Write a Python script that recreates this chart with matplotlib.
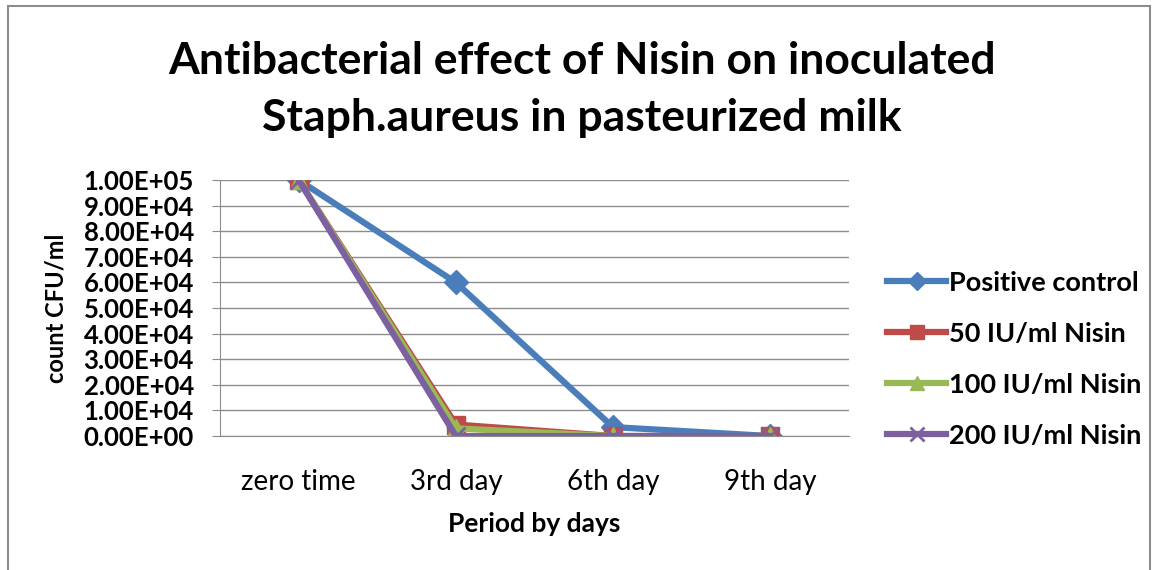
import matplotlib.pyplot as plt
from matplotlib.patches import Rectangle
from matplotlib.ticker import FuncFormatter

plt.rcParams['font.family'] = ['Lato', 'DejaVu Sans']

days = ['zero time', '3rd day', '6th day', '9th day']
positive_control = [100000, 60000, 3500, 0]
nisin_50 = [100000, 4500, 0, 0]
nisin_100 = [100000, 3000, 0, 0]
nisin_200 = [100000, 0, 0, 0]

fig = plt.figure(figsize=(11.53, 5.70), dpi=100)
ax = fig.add_axes([0.191, 0.235, 0.545, 0.449])

x = range(len(days))
ax.plot(x, positive_control, color='#4a7ebb', lw=4.5, marker='D', ms=12, label='Positive control')
ax.plot(x, nisin_50, color='#be4b48', lw=4.5, marker='s', ms=13, label='50 IU/ml Nisin')
ax.plot(x, nisin_100, color='#98b954', lw=4.5, marker='^', ms=13, label='100 IU/ml Nisin')
ax.plot(x, nisin_200, color='#7d60a0', lw=4.5, marker='x', ms=13, mew=2, label='200 IU/ml Nisin')

ax.set_xlim(-0.5, 3.5)
ax.set_ylim(0, 100000)
ax.set_yticks(range(0, 100001, 10000))
ax.yaxis.set_major_formatter(FuncFormatter(lambda v, p: '%.2E' % v))
ax.set_xticks(list(x))
ax.set_xticklabels(days)
ax.grid(axis='y', color='#8c8c8c', lw=1)
ax.set_axisbelow(True)
for s in ['top', 'right']:
    ax.spines[s].set_visible(False)
for s in ['left', 'bottom']:
    ax.spines[s].set_color('#8c8c8c')
ax.tick_params(axis='y', labelsize=18.5, length=6, color='#8c8c8c', pad=13)
ax.tick_params(axis='x', labelsize=20, length=0, pad=24)
for t in ax.get_yticklabels():
    t.set_fontweight('bold')

ax.set_ylabel('count CFU/ml', fontsize=17, fontweight='bold')
ax.yaxis.set_label_coords(-0.243, 0.5)
ax.set_xlabel('Period by days', fontsize=19, fontweight='bold', labelpad=12)

fig.text(0.505, 0.893, 'Antibacterial effect of Nisin on inoculated', ha='center', va='center',
         fontsize=32, fontweight='bold')
fig.text(0.505, 0.793, 'Staph.aureus in pasteurized milk', ha='center', va='center',
         fontsize=32, fontweight='bold')

leg = ax.legend(loc='center left', bbox_to_anchor=(1.022, 0.3), frameon=False,
                prop={'size': 19.5, 'weight': 'bold'}, labelspacing=1.0,
                handlelength=2.2, handletextpad=0.1, markerscale=0.8)

fig.patches.append(Rectangle((0.007, -0.01), 0.99, 1.0, transform=fig.transFigure,
                             fill=False, edgecolor='#8c8c8c', lw=1.5))

fig.savefig('out.png')
